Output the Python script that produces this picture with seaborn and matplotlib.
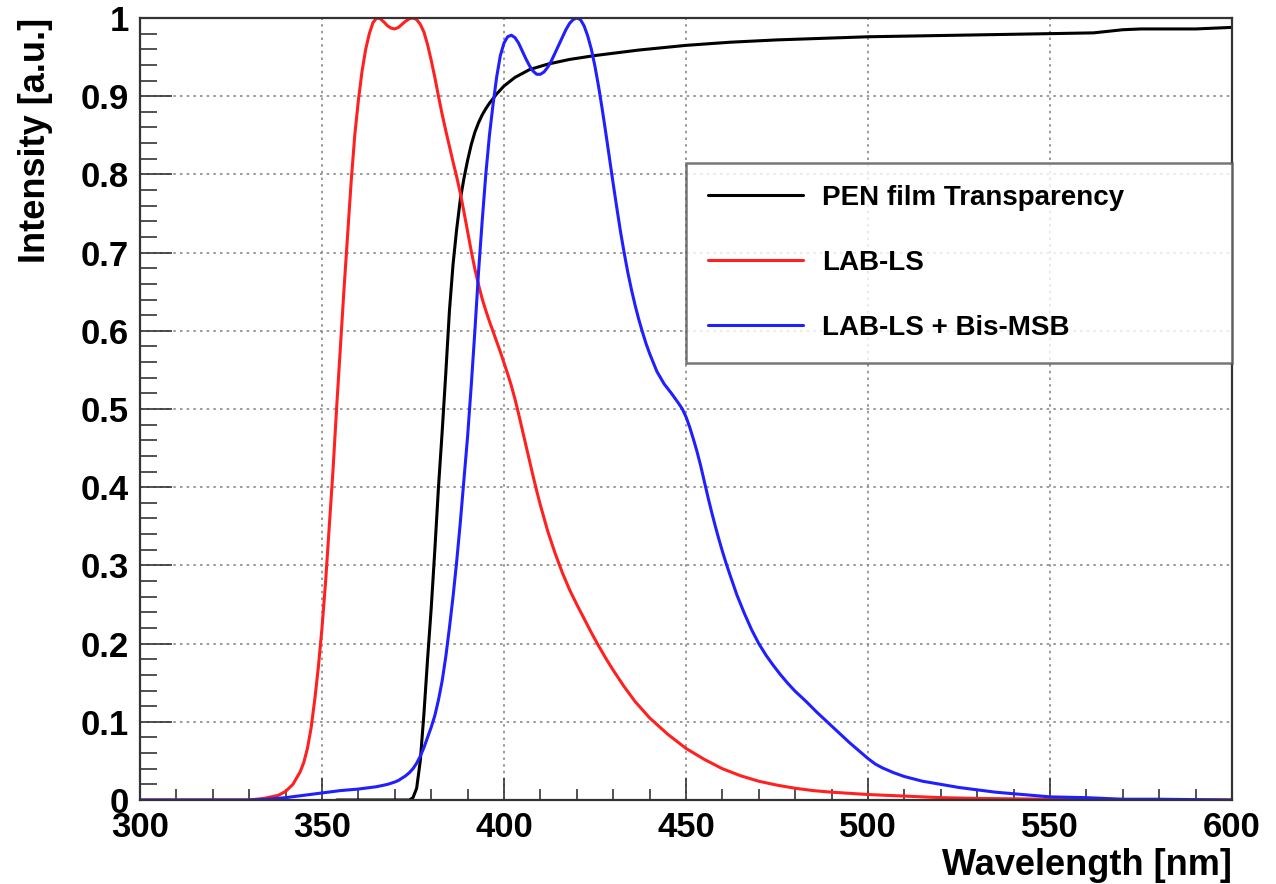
import numpy as np
import pandas as pd
import seaborn as sns
import matplotlib.pyplot as plt
from matplotlib.ticker import MultipleLocator, FuncFormatter

# PEN film transparency
pen_wl = [354, 374, 375, 376, 377, 378, 379, 380, 381, 382, 383, 384, 385, 386, 387, 388, 389, 390,
          391, 392, 393, 394, 395, 396, 397, 398, 400, 403, 407, 412, 418, 425, 437, 450, 462, 475,
          500, 525, 550, 562, 566, 570, 575, 590, 600]
pen_val = [0, 0, 0.003, 0.015, 0.05, 0.11, 0.18, 0.245, 0.32, 0.4, 0.47, 0.545, 0.625, 0.685, 0.73, 0.768, 0.795, 0.818,
           0.838, 0.854, 0.866, 0.876, 0.884, 0.891, 0.897, 0.903, 0.913, 0.924, 0.934, 0.941, 0.947, 0.952, 0.959, 0.965, 0.969, 0.972,
           0.976, 0.978, 0.98, 0.981, 0.983, 0.985, 0.986, 0.986, 0.988]

# LAB-LS emission
lab_wl = [300, 320, 330, 334, 338, 340, 342, 344, 345, 346, 347, 348, 349, 350, 351, 352, 353, 354, 355,
          356, 357, 358, 359, 360, 361, 362, 363, 364, 365, 366, 367, 368, 369, 370, 371, 372, 373, 374,
          375, 376, 377, 378, 379, 380, 381, 382, 383, 384, 385, 386, 387, 388, 389, 390, 391, 392, 393,
          394, 395, 396, 397, 398, 399, 400, 401, 402, 403, 404, 405, 406, 407, 408, 409, 410, 412, 414,
          416, 418, 420, 422, 424, 426, 428, 430, 433, 436, 440, 445, 450, 455, 460, 465, 470, 475, 480,
          485, 490, 500, 510, 520, 530, 550, 575, 600]
lab_val = [0, 0, 0, 0.002, 0.006, 0.011, 0.02, 0.036, 0.048, 0.066, 0.092, 0.128, 0.17, 0.22, 0.28, 0.35, 0.42, 0.5, 0.575,
           0.65, 0.72, 0.79, 0.85, 0.895, 0.932, 0.96, 0.98, 0.994, 1.0, 0.999, 0.995, 0.99, 0.987, 0.986, 0.988, 0.992, 0.996, 0.999,
           1.0, 0.998, 0.992, 0.982, 0.966, 0.946, 0.924, 0.9, 0.877, 0.856, 0.836, 0.816, 0.797, 0.776, 0.752, 0.727, 0.702, 0.679, 0.659,
           0.641, 0.626, 0.612, 0.599, 0.586, 0.573, 0.559, 0.545, 0.53, 0.513, 0.494, 0.474, 0.454, 0.434, 0.414, 0.395, 0.377, 0.344, 0.316,
           0.291, 0.269, 0.25, 0.232, 0.214, 0.197, 0.181, 0.166, 0.145, 0.126, 0.105, 0.084, 0.066, 0.052, 0.04, 0.031, 0.024, 0.019, 0.015,
           0.012, 0.01, 0.007, 0.005, 0.003, 0.002, 0.001, 0, 0]

# LAB-LS + Bis-MSB emission
msb_wl = [300, 330, 335, 340, 345, 350, 355, 360, 365, 368, 370, 371, 372, 373, 374, 375, 376, 377, 378,
          379, 380, 381, 382, 383, 384, 385, 386, 387, 388, 389, 390, 391, 392, 393, 394, 395, 396, 397,
          398, 399, 400, 401, 402, 403, 404, 405, 406, 407, 408, 409, 410, 411, 412, 413, 414, 415, 416,
          417, 418, 419, 420, 421, 422, 423, 424, 425, 426, 427, 428, 429, 430, 431, 432, 433, 434, 435,
          436, 437, 438, 439, 440, 442, 444, 446, 448, 449, 450, 451, 452, 453, 454, 455, 456, 457, 458,
          459, 460, 461, 462, 464, 466, 468, 470, 472, 474, 476, 478, 480, 483, 486, 489, 492, 495, 498,
          500, 502, 504, 507, 510, 515, 520, 525, 530, 535, 540, 550, 560, 570, 580, 600]
msb_val = [0, 0, 0.001, 0.003, 0.006, 0.009, 0.012, 0.014, 0.017, 0.02, 0.023, 0.025, 0.028, 0.031, 0.035, 0.04, 0.047, 0.056, 0.067,
           0.08, 0.093, 0.108, 0.128, 0.152, 0.183, 0.22, 0.26, 0.305, 0.355, 0.41, 0.465, 0.53, 0.6, 0.675, 0.74, 0.8, 0.85, 0.89,
           0.925, 0.952, 0.968, 0.976, 0.978, 0.975, 0.968, 0.958, 0.948, 0.939, 0.932, 0.928, 0.928, 0.931, 0.937, 0.945, 0.955, 0.965, 0.975,
           0.985, 0.993, 0.998, 1.0, 0.998, 0.99, 0.977, 0.96, 0.938, 0.912, 0.883, 0.852, 0.82, 0.788, 0.757, 0.727, 0.7, 0.675, 0.653,
           0.633, 0.615, 0.599, 0.584, 0.571, 0.548, 0.532, 0.52, 0.507, 0.5, 0.49, 0.477, 0.462, 0.446, 0.428, 0.408, 0.388, 0.369, 0.351,
           0.334, 0.318, 0.303, 0.289, 0.262, 0.239, 0.218, 0.2, 0.185, 0.172, 0.16, 0.149, 0.139, 0.126, 0.112, 0.099, 0.086, 0.073, 0.061,
           0.053, 0.046, 0.041, 0.035, 0.03, 0.024, 0.02, 0.016, 0.013, 0.01, 0.008, 0.004, 0.003, 0.001, 0.001, 0]

sns.set_style("white")
plt.rcParams['font.family'] = ['Liberation Sans', 'DejaVu Sans']
plt.rcParams['font.weight'] = 'bold'
plt.rcParams['text.color'] = 'black'
plt.rcParams['axes.labelcolor'] = 'black'
plt.rcParams['xtick.color'] = 'black'
plt.rcParams['ytick.color'] = 'black'

fig = plt.figure(figsize=(12.76, 8.84), dpi=100)
ax = fig.add_axes([140 / 1276, 1 - 800 / 884, 1092 / 1276, 782 / 884])

sns.lineplot(x=pen_wl, y=pen_val, color='black', lw=2.2, label='PEN film Transparency', ax=ax)
sns.lineplot(x=lab_wl, y=lab_val, color='#ff2020', lw=2.2, label='LAB-LS', ax=ax)
sns.lineplot(x=msb_wl, y=msb_val, color='#2020ff', lw=2.2, label='LAB-LS + Bis-MSB', ax=ax)

ax.set_xlim(300, 600)
ax.set_ylim(0, 1)
ax.xaxis.set_major_locator(MultipleLocator(50))
ax.xaxis.set_minor_locator(MultipleLocator(10))
ax.yaxis.set_major_locator(MultipleLocator(0.1))
ax.yaxis.set_minor_locator(MultipleLocator(0.02))
ax.yaxis.set_major_formatter(FuncFormatter(lambda v, _: f'{v:g}'))

ax.grid(True, which='major', linestyle=(0, (1.5, 2.5)), color='#8a8a8a', lw=1.2)
ax.tick_params(axis='both', which='both', direction='in', color='#333333', width=1.2,
               bottom=True, left=True, top=False, right=False)
ax.tick_params(axis='x', which='major', length=16, labelsize=25, pad=8)
ax.tick_params(axis='x', which='minor', length=8)
ax.tick_params(axis='y', which='major', length=23, labelsize=25, pad=8)
ax.tick_params(axis='y', which='minor', length=12)
for lab in ax.get_xticklabels() + ax.get_yticklabels():
    lab.set_fontweight('bold')
for s in ax.spines.values():
    s.set_linewidth(1.6)
    s.set_color('#333333')

ax.set_xlabel('Wavelength [nm]', fontsize=26, fontweight='bold', loc='right', labelpad=3)
ax.set_ylabel('Intensity [a.u.]', fontsize=26, fontweight='bold', loc='top', labelpad=20)

leg = ax.legend(loc='upper left', bbox_to_anchor=(0.5, 0.5627, 0.5, 0.2519), mode='expand',
                fontsize=20, frameon=True, fancybox=False, handlelength=3.4, handletextpad=0.7,
                labelspacing=1.4, borderpad=0.8, borderaxespad=0)
leg.get_frame().set_edgecolor('#555555')
leg.get_frame().set_linewidth(1.8)
for t in leg.get_texts():
    t.set_fontweight('bold')

plt.savefig('out.png', dpi=100)
